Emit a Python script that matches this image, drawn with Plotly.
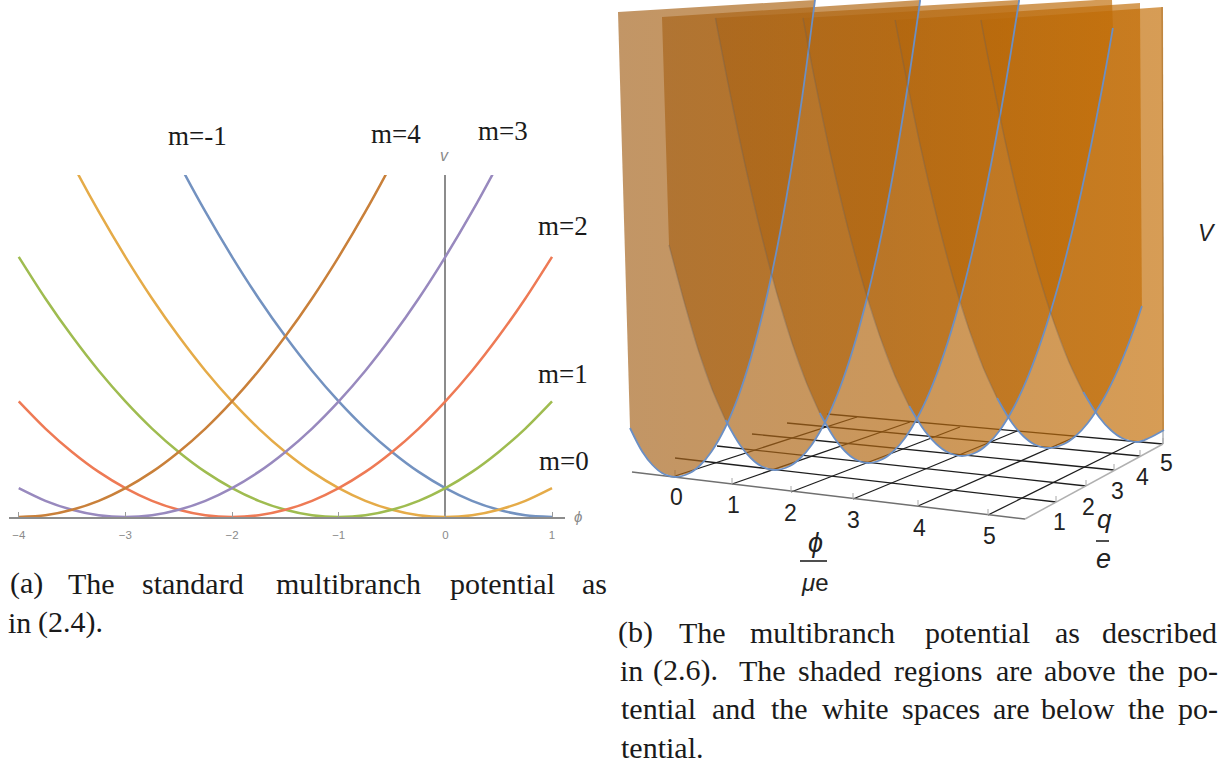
import plotly.graph_objects as go

W, H = 1226, 763

# ---------- panel (a): branches of the multibranch potential ----------
phi = [-4, -3.75, -3.5, -3.25, -3, -2.75, -2.5, -2.25, -2, -1.75, -1.5, -1.25, -1, -0.75, -0.5, -0.25, 0, 0.25, 0.5, 0.75, 1]
v_blue = [25, 22.56, 20.25, 18.06, 16, 14.06, 12.25, 10.56, 9, 7.56, 6.25, 5.06, 4, 3.06, 2.25, 1.56, 1, 0.56, 0.25, 0.06, 0]
v_orange = [16, 14.06, 12.25, 10.56, 9, 7.56, 6.25, 5.06, 4, 3.06, 2.25, 1.56, 1, 0.56, 0.25, 0.06, 0, 0.06, 0.25, 0.56, 1]
v_green = [9, 7.56, 6.25, 5.06, 4, 3.06, 2.25, 1.56, 1, 0.56, 0.25, 0.06, 0, 0.06, 0.25, 0.56, 1, 1.56, 2.25, 3.06, 4]
v_red = [4, 3.06, 2.25, 1.56, 1, 0.56, 0.25, 0.06, 0, 0.06, 0.25, 0.56, 1, 1.56, 2.25, 3.06, 4, 5.06, 6.25, 7.56, 9]
v_purple = [1, 0.56, 0.25, 0.06, 0, 0.06, 0.25, 0.56, 1, 1.56, 2.25, 3.06, 4, 5.06, 6.25, 7.56, 9, 10.56, 12.25, 14.06, 16]
v_brown = [0, 0.06, 0.25, 0.56, 1, 1.56, 2.25, 3.06, 4, 5.06, 6.25, 7.56, 9, 10.56, 12.25, 14.06, 16, 18.06, 20.25, 22.56, 25]
series_a = [(v_blue, "#7392C0"), (v_orange, "#E5AB48"), (v_green, "#9FBC50"),
            (v_red, "#EE7A55"), (v_purple, "#9889BE"), (v_brown, "#C9803A")]
tick_vals_a = [-4, -3, -2, -1, 0, 1]
tick_text_a = ["−4", "−3", "−2", "−1", "0", "1"]
labels_m = [("m=-1", 197, 136), ("m=4", 396, 134), ("m=3", 503, 131),
            ("m=2", 563, 226), ("m=1", 563, 374), ("m=0", 564, 461)]

# ---------- panel (b): the sheets (screen positions) ----------
U_min = [(675, 477), (775, 470), (868, 463), (962, 456), (1048, 448), (1137, 442)]

U0_left_x = [662, 652.5, 642.5, 630]
U0_left_y = [473, 465, 452, 428]
U0_right_x = [689.8, 700.4, 711.2, 725.5, 738.1, 751.1, 764.3, 777.3, 789.9, 802.2, 815]
U0_right_y = [473, 465, 452, 427, 397, 357, 307, 247, 177, 97, 0]

U1_left_x = [761, 750.8, 740, 725.5, 712.4, 698.3, 683.7, 669]
U1_left_y = [466, 458, 445, 420, 390, 350, 300, 245]
U1_right_x = [789.9, 800.5, 811.6, 826.2, 839.1, 852.7, 866.5, 880.3, 893.8, 907.1, 920.2]
U1_right_y = [466, 458, 445, 420, 390, 350, 300, 240, 170, 90, 0]

U2_left_x = [854.7, 844.8, 834.3, 819.8, 806.6, 792.1, 776.8, 761, 744.7, 728, 715.4]
U2_left_y = [459, 451, 438, 413, 383, 343, 293, 233, 163, 83, 18]
U2_right_x = [882.9, 893.7, 905, 919.9, 933.3, 947.5, 962.1, 976.7, 991.3, 1005.8, 1019.2]
U2_right_y = [459, 451, 438, 413, 383, 343, 293, 233, 163, 83, 0]

U3_left_x = [947.2, 936.3, 924.8, 909.2, 895, 879.8, 863.8, 847.4, 830.8, 814, 803]
U3_left_y = [452, 444, 431, 406, 376, 336, 286, 226, 156, 76, 18]
U3_right_x = [977, 987.8, 999.3, 1014.5, 1028.2, 1042.9, 1058.1, 1073.5, 1088.9, 1104.4, 1112.9]
U3_right_y = [452, 444, 431, 406, 376, 336, 286, 226, 156, 76, 28]

U4_left_x = [1033.7, 1023.2, 1012.1, 997.1, 983.4, 968.6, 953, 937.1, 920.8, 904.3, 895.1]
U4_left_y = [444, 436, 423, 398, 368, 328, 278, 218, 148, 68, 20]
U4_right_x = [1064, 1075.6, 1087.8, 1104, 1118.7, 1134.4, 1141.9]
U4_right_y = [444, 436, 423, 398, 368, 328, 306]

U5_left_x = [1121.8, 1110.7, 1099, 1083.3, 1069, 1053.8, 1037.9, 1021.7, 1005.4, 988.9, 980.9]
U5_left_y = [438, 430, 417, 392, 362, 322, 272, 212, 142, 62, 20]
U5_right_x = [1149, 1164]
U5_right_y = [438, 430]

U_left = [(U0_left_x, U0_left_y), (U1_left_x, U1_left_y), (U2_left_x, U2_left_y),
          (U3_left_x, U3_left_y), (U4_left_x, U4_left_y), (U5_left_x, U5_left_y)]
U_right = [(U0_right_x, U0_right_y), (U1_right_x, U1_right_y), (U2_right_x, U2_right_y),
           (U3_right_x, U3_right_y), (U4_right_x, U4_right_y), (U5_right_x, U5_right_y)]
# extra corner points of each sheet: before the left branch, after the right branch
U_top_left = [(618, 12), (662, 17), None, None, None, None]
U_top_right = [None, None, None, (1112, -1), (1140, 3), (1163, 7)]

# floor of the box
edge_phi_x = [632, 1025]
edge_phi_y = [472, 519]
edge_q_x = [1025, 1163]
edge_q_y = [519, 444]
edge_v_x = [1163, 1163, 1162]
edge_v_y = [444, 250, 7]
phi_front = [(675, 476), (732, 484), (791, 492), (853, 499), (918, 506), (988, 515)]
phi_back = [(857, 417), (910, 422), (960, 427), (1017, 431), (1075, 437), (1135, 442)]
q_right = [(1056, 502), (1086, 486), (1114, 470), (1140, 456), (1163, 444)]
q_left = [(675, 458), (717, 446), (752, 434), (787, 423), (827, 414)]
phi_tick_labels = [("0", 676, 497), ("1", 733, 505), ("2", 790, 513), ("3", 853, 520), ("4", 919, 528), ("5", 989, 536)]
q_tick_labels = [("1", 1059, 522), ("2", 1088, 507), ("3", 1117, 491), ("4", 1142, 477), ("5", 1166, 463)]

# ---------- captions ----------
caption_words = [
    ("(a)", 26, 583), ("The", 91, 583), ("standard", 193, 583), ("multibranch", 348, 583), ("potential", 502, 583), ("as", 594, 583),
    ("in", 19, 622), ("(2.4).", 70, 622),
    ("(b)", 635, 632), ("The", 702, 632), ("multibranch", 822, 632), ("potential", 977, 632), ("as", 1067, 632), ("described", 1159, 632),
    ("in", 631, 670), ("(2.6).", 685, 670), ("The", 762, 670), ("shaded", 839, 670), ("regions", 938, 670), ("are", 1014, 670),
    ("above", 1080, 670), ("the", 1146, 670), ("po-", 1198, 670),
    ("tential", 658, 708), ("and", 733, 708), ("the", 789, 708), ("white", 855, 708), ("spaces", 941, 708), ("are", 1011, 708),
    ("below", 1078, 708), ("the", 1146, 708), ("po-", 1198, 708),
    ("tential.", 662, 747),
]

SERIF = "Liberation Serif"
SANS = "Liberation Sans"
fig = go.Figure()

# panel (a) traces
for vals, col in series_a:
    fig.add_trace(go.Scatter(x=phi, y=vals, mode="lines", xaxis="x", yaxis="y",
                             line=dict(color=col, width=2.5, shape="spline", smoothing=0.8),
                             hoverinfo="skip", showlegend=False))


def seg(xs, ys, color, width=1.0, shape="linear"):
    fig.add_trace(go.Scatter(x=xs, y=ys, mode="lines", xaxis="x2", yaxis="y2",
                             line=dict(color=color, width=width, shape=shape),
                             hoverinfo="skip", showlegend=False))


# floor under the sheets
GRID = "rgba(30,30,30,1)"
for (x0, y0), (x1, y1) in zip(q_right, q_left):
    seg([x0, x1], [y0, y1], GRID, 1.3)
for (x0, y0), (x1, y1) in zip(phi_front, phi_back):
    seg([x0, x1], [y0, y1], GRID, 1.3)
seg(edge_phi_x, edge_phi_y, "#707070", 1.5)
seg(edge_q_x, edge_q_y, "#b0b0b0", 1.5)
seg(edge_v_x, edge_v_y, "#8a8f96", 1.0)
for (x0, y0) in phi_front:
    seg([x0, x0], [y0, y0 - 6], "#a8a8a8", 1.0)
for (x0, y0) in q_right:
    seg([x0, x0], [y0, y0 - 6], "#a8a8a8", 1.0)

# translucent sheets
grad = dict(type="horizontal", start=618, stop=1165,
            colorscale=[[0, "rgba(165,100,30,0.68)"], [0.5, "rgba(178,102,14,0.68)"], [1, "rgba(196,110,5,0.68)"]])
for k in range(6):
    lx, ly = U_left[k]
    rx, ry = U_right[k]
    xs, ys = [], []
    if U_top_left[k]:
        xs.append(U_top_left[k][0]); ys.append(U_top_left[k][1])
    xs += lx[::-1] + [U_min[k][0]] + rx
    ys += ly[::-1] + [U_min[k][1]] + ry
    if U_top_right[k]:
        xs.append(U_top_right[k][0]); ys.append(U_top_right[k][1])
    xs.append(xs[0]); ys.append(ys[0])
    fig.add_trace(go.Scatter(x=xs, y=ys, mode="lines", xaxis="x2", yaxis="y2", fill="toself",
                             fillgradient=grad, line=dict(width=0, color="rgba(0,0,0,0)"),
                             hoverinfo="skip", showlegend=False))

# sheet edges
BLUE = "#6b8fc4"
EDGE = "rgba(105,95,85,0.35)"
for k in range(6):
    lx, ly = U_left[k]
    rx, ry = U_right[k]
    if k > 0:
        seg(lx[3:], ly[3:], EDGE, 1.4, "spline")
        bx = lx[:4][::-1] + [U_min[k][0]] + rx
        by = ly[:4][::-1] + [U_min[k][1]] + ry
    else:
        bx = lx[::-1] + [U_min[k][0]] + rx
        by = ly[::-1] + [U_min[k][1]] + ry
    seg(bx, by, BLUE, 1.8, "spline")

# fraction bars
seg([800, 827], [561, 561], "#222", 1.6)
seg([1096, 1109], [541, 541], "#222", 1.6)

anns = []


def txt(s, x, y, size, font, color="#1a1a1a"):
    anns.append(dict(text=s, x=x, y=y, xref="x2", yref="y2", showarrow=False, xanchor="center", yanchor="middle",
                     font=dict(family=font, size=size, color=color)))


for s, x, y in labels_m:
    txt(s, x, y, 27, SERIF)
for s, x, y in caption_words:
    txt(s, x, y, 30, SERIF)
for s, x, y in phi_tick_labels + q_tick_labels:
    txt(s, x, y, 23, SANS, "#222")
txt("<i>ϕ</i>", 815, 543, 27, SANS, "#222")
txt("<i>μ</i>e", 815, 582, 24, SANS, "#222")
txt("<i>q</i>", 1104, 519, 26, SANS, "#222")
txt("<i>e</i>", 1103, 559, 27, SANS, "#222")
txt("<i>V</i>", 1207, 233, 23, SANS, "#222")
txt("<i>ϕ</i>", 578, 516, 15, SANS, "#8a8a8a")
txt("<i>v</i>", 444, 155, 16, SANS, "#8a8a8a")

# panel (a) pixel box: x 8.6..564.5, y 175..517
fig.update_layout(
    width=W, height=H, margin=dict(l=0, r=0, t=0, b=0), paper_bgcolor="white", plot_bgcolor="rgba(0,0,0,0)",
    showlegend=False, annotations=anns,
    xaxis=dict(domain=[8.6 / W, 564.5 / W], range=[-4.095, 1.117], anchor="y", showgrid=False, showline=True,
               linecolor="#8c8c8c", linewidth=1.5, tickmode="array", tickvals=tick_vals_a, ticktext=tick_text_a,
               ticks="inside", ticklen=5, tickcolor="#9a9a9a", tickwidth=1, ticklabelstandoff=6,
               tickfont=dict(family=SANS, size=11.5, color="#8a8a8a"),
               zeroline=True, zerolinecolor="#8c8c8c", zerolinewidth=1.5),
    yaxis=dict(domain=[1 - 517 / H, 1 - 175 / H], range=[0, 11.83], anchor="x", showgrid=False, showline=False,
               showticklabels=False, ticks="", zeroline=False),
    xaxis2=dict(domain=[0, 1], range=[0, W], anchor="y2", visible=False, fixedrange=True),
    yaxis2=dict(domain=[0, 1], range=[H, 0], anchor="x2", visible=False, fixedrange=True),
)

fig.write_html("out.html", config={"displayModeBar": False},
               post_script="document.body.style.margin='0';document.body.style.overflow='hidden';")
